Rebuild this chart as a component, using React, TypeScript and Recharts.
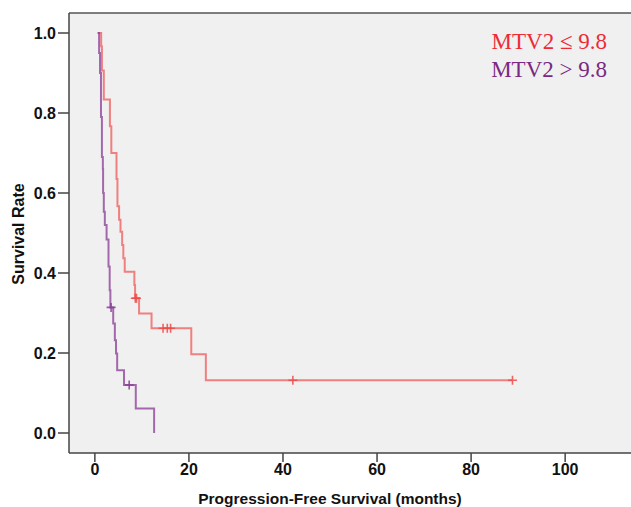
import React from "react";
import {
  ComposedChart,
  XAxis,
  YAxis,
  Line,
  Scatter,
  ReferenceArea,
  ReferenceLine,
  Customized,
} from "recharts";

// Kaplan-Meier steps: event time (months) and survival after the event
const redTimes = [0.6, 1.34, 1.5, 1.9, 3.2, 3.5, 4.6, 4.8, 5.15, 5.45, 5.8, 6.05, 6.35, 8.4, 8.55, 9.4, 12.05, 20.5, 23.6, 88.8];
const redSurv = [1.0, 0.967, 0.906, 0.834, 0.767, 0.7, 0.635, 0.567, 0.533, 0.503, 0.47, 0.437, 0.403, 0.37, 0.337, 0.299, 0.262, 0.197, 0.132, 0.132];
const redCensorTimes = [8.6, 8.85, 14.5, 15.4, 16.1, 42.1, 88.8];
const redCensorSurv = [0.337, 0.337, 0.262, 0.262, 0.262, 0.132, 0.132];

const purpleTimes = [0.6, 0.9, 1.1, 1.3, 1.5, 1.7, 1.75, 1.9, 2.12, 2.49, 2.9, 3.15, 3.3, 3.9, 4.25, 4.5, 4.74, 6.2, 8.7, 12.6];
const purpleSurv = [1.0, 0.95, 0.9, 0.79, 0.69, 0.66, 0.6, 0.553, 0.52, 0.484, 0.416, 0.357, 0.314, 0.274, 0.232, 0.199, 0.157, 0.12, 0.061, 0];
const purpleCensorTimes = [3.45, 7.3];
const purpleCensorSurv = [0.314, 0.12];

const xTicks = [0, 20, 40, 60, 80, 100];
const yTicks = [0, 0.2, 0.4, 0.6, 0.8, 1.0];
const legendLabels = ["MTV2 \u2264 9.8", "MTV2 > 9.8"];

const RED = "#f04a4a";
const PURPLE = "#8a3a96";

const toPoints = (t: number[], s: number[]) => t.map((v, i) => ({ t: v, s: s[i] }));

const redData = toPoints(redTimes, redSurv);
const purpleData = toPoints(purpleTimes, purpleSurv);
const redCensor = toPoints(redCensorTimes, redCensorSurv);
const purpleCensor = toPoints(purpleCensorTimes, purpleCensorSurv);

const sans = "'Liberation Sans', Arial, sans-serif";
const serif = "'Liberation Serif', 'Times New Roman', serif";

const cross = (color: string) => (props: any) => {
  const { cx, cy } = props;
  return (
    <path
      d={`M${cx - 4.5},${cy}h9M${cx},${cy - 4.5}v9`}
      stroke={color}
      strokeWidth={1.6}
      strokeOpacity={0.85}
      fill="none"
    />
  );
};

const XTick = (props: any) => {
  const { x, y, payload } = props;
  return (
    <text x={x} y={y + 11.5} textAnchor="middle" fontFamily={sans} fontWeight="bold" fontSize={16} fill="#111">
      {payload.value}
    </text>
  );
};

const YTick = (props: any) => {
  const { x, y, payload } = props;
  return (
    <text x={x} y={y + 5.5} textAnchor="end" fontFamily={sans} fontWeight="bold" fontSize={16} fill="#111">
      {Number(payload.value).toFixed(1)}
    </text>
  );
};

const Titles = () => (
  <g>
    <text x={330} y={504} textAnchor="middle" fontFamily={sans} fontWeight="bold" fontSize={15.5} fill="#111">
      Progression-Free Survival (months)
    </text>
    <text
      transform="translate(18,234) rotate(-90)"
      textAnchor="middle"
      dominantBaseline="central"
      fontFamily={sans}
      fontWeight="bold"
      fontSize={16}
      fill="#111"
    >
      Survival Rate
    </text>
  </g>
);

const legendStyle = (top: number, color: string): React.CSSProperties => ({
  position: "absolute",
  right: 24,
  top,
  fontFamily: serif,
  fontSize: 23,
  lineHeight: "26px",
  color,
  whiteSpace: "nowrap",
});

export default function App() {
  return (
    <div style={{ position: "absolute", left: 0, top: 0, width: 631, height: 507, background: "#fff" }}>
      <ComposedChart width={631} height={507} margin={{ top: 13, right: 0, bottom: 0, left: 0 }}>
        <ReferenceArea x1={-5.5} x2={114} y1={-0.05} y2={1.05} fill="#f0f0f0" fillOpacity={1} stroke="none" />
        <ReferenceLine y={1.05} stroke="#555" strokeWidth={1.5} />
        <XAxis
          type="number"
          dataKey="t"
          domain={[-5.5, 114]}
          allowDataOverflow
          ticks={xTicks}
          tickSize={9}
          tickMargin={1}
          stroke="#444"
          strokeWidth={1.5}
          tick={<XTick />}
          height={54}
        />
        <YAxis
          type="number"
          dataKey="s"
          domain={[-0.05, 1.05]}
          allowDataOverflow
          ticks={yTicks}
          tickSize={11}
          tickMargin={2}
          stroke="#444"
          strokeWidth={1.5}
          tick={<YTick />}
          width={69}
        />
        <Line
          data={redData}
          dataKey="s"
          type="stepAfter"
          stroke={RED}
          strokeOpacity={0.68}
          strokeWidth={2}
          dot={false}
          activeDot={false}
          isAnimationActive={false}
        />
        <Line
          data={purpleData}
          dataKey="s"
          type="stepAfter"
          stroke={PURPLE}
          strokeOpacity={0.75}
          strokeWidth={2}
          dot={false}
          activeDot={false}
          isAnimationActive={false}
        />
        <Scatter data={redCensor} dataKey="s" shape={cross(RED)} isAnimationActive={false} />
        <Scatter data={purpleCensor} dataKey="s" shape={cross(PURPLE)} isAnimationActive={false} />
        <Customized component={Titles} />
      </ComposedChart>
      <div style={legendStyle(29, "#ee2a36")}>{legendLabels[0]}</div>
      <div style={legendStyle(57, "#7a2882")}>{legendLabels[1]}</div>
    </div>
  );
}
